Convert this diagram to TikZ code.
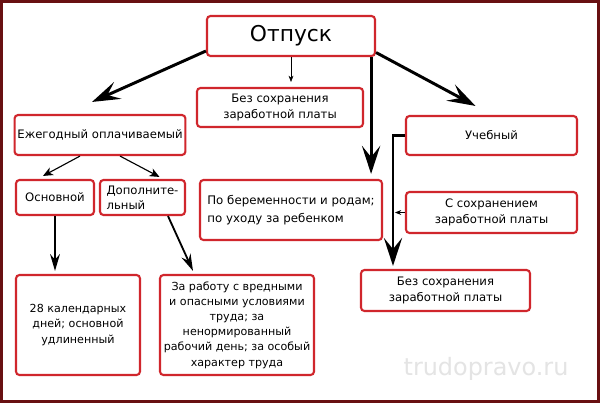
\documentclass[tikz,border=0pt]{standalone}
\usepackage{fontspec}
\setmainfont{DejaVu Sans}
\usepackage{tikz}
\usetikzlibrary{arrows.meta, positioning, calc}
\definecolor{boxred}{RGB}{208, 38, 44}
\definecolor{framered}{RGB}{104, 16, 18}
\definecolor{markgray}{RGB}{228, 228, 228}

\begin{document}
\begin{tikzpicture}[x=0.025cm, y=-0.025cm,
    box/.style={draw=boxred, line width=1.5pt, rounded corners=2.5pt, fill=white,
      align=center, inner sep=2pt, font=\fontsize{8.3}{11}\selectfont},
    smalltext/.style={font=\fontsize{7.9}{10.8}\selectfont},
    bigarrow/.style={line width=2.1pt, -{Stealth[length=20pt, width=13pt, inset=8pt]}},
    midarrow/.style={line width=1.3pt, -{Stealth[length=12pt, width=7pt, inset=4pt]}},
    thinarrow/.style={line width=0.8pt, -{Stealth[length=7pt, width=6pt, inset=2pt]}},
    tinyarrow/.style={line width=0.45pt, -{Stealth[length=4.5pt, width=3.5pt]}}]
  \useasboundingbox (0,0) rectangle (600,403);
  \fill[white] (0,0) rectangle (600,403);
  \draw[framered, line width=2.2pt] (1.5,1.5) rectangle (598.5,401.5);

  % watermark
  \node[text=markgray, font=\fontsize{17}{20}\selectfont] (mark) at (486,369) {trudopravo.ru};

  \node[box, minimum width=4.2cm, minimum height=1.0cm, font=\fontsize{15.5}{18}\selectfont] (otpusk) at (291,36) {Отпуск};
  \node[box, minimum width=4.15cm, minimum height=0.975cm] (bezone) at (280,107.5) {Без сохранения\\заработной платы};
  \node[box, minimum width=4.25cm, minimum height=1.0cm] (ezheg) at (100,135) {Ежегодный оплачиваемый};
  \node[box, minimum width=1.95cm, minimum height=0.875cm] (osn) at (55,197.5) {Основной};
  \node[box, minimum width=2.125cm, minimum height=0.875cm, align=left] (dop) at (142.5,197.5) {Дополните-\\льный};
  \node[box, minimum width=4.55cm, minimum height=1.5cm, align=left, font=\fontsize{8.4}{13}\selectfont] (berem) at (291,210) {По беременности и родам;\\по уходу за ребенком};
  \node[box, minimum width=4.275cm, minimum height=0.975cm] (ucheb) at (491.5,135.5) {Учебный};
  \node[box, minimum width=4.275cm, minimum height=1.025cm] (ssohr) at (491.5,212.5) {С сохранением\\заработной платы};
  \node[box, minimum width=4.225cm, minimum height=1.025cm] (beztwo) at (445.5,290.5) {Без сохранения\\заработной платы};
  \node[box, smalltext, minimum width=3.1cm, minimum height=2.5cm] (kal) at (78,325) {28 календарных\\дней; основной\\удлиненный};
  \node[box, smalltext, minimum width=3.85cm, minimum height=2.5cm] (zarab) at (237,325) {За работу с вредными\\и опасными условиями\\труда; за\\ненормированный\\рабочий день; за особый\\характер труда};

  \draw[bigarrow] (otpusk.190) -- ($(ezheg.north)+(-8,-12)$);
  \draw[tinyarrow] (otpusk.south) -- ($(otpusk.south |- bezone.north)+(0,-5)$);
  \coordinate (down) at ($(otpusk.south east)+(-5,0)$);
  \draw[bigarrow] (down) -- ($(down |- berem.north)+(0,-5)$);
  \draw[bigarrow] (otpusk.-11) -- ($(ucheb.north)+(-16,-9)$);

  \draw[thinarrow] ($(ezheg.south)+(-20,0)$) -- ($(osn.north)+(-12,-3)$);
  \draw[thinarrow] ($(ezheg.south)+(20,0)$) -- ($(dop.north)+(17,-2)$);
  \draw[midarrow] (osn.south) -- ($(osn.south |- kal.north)+(0,-3)$);
  \draw[midarrow] ($(dop.south)+(25.5,0)$) -- ($(zarab.north)+(-44,-3)$);

  \draw[bigarrow] (ucheb.west) -| ($(beztwo.north)+(-52.5,-3)$);
  \draw[tinyarrow] (ssohr.west) -- ++(-10,0);
\end{tikzpicture}
\end{document}
